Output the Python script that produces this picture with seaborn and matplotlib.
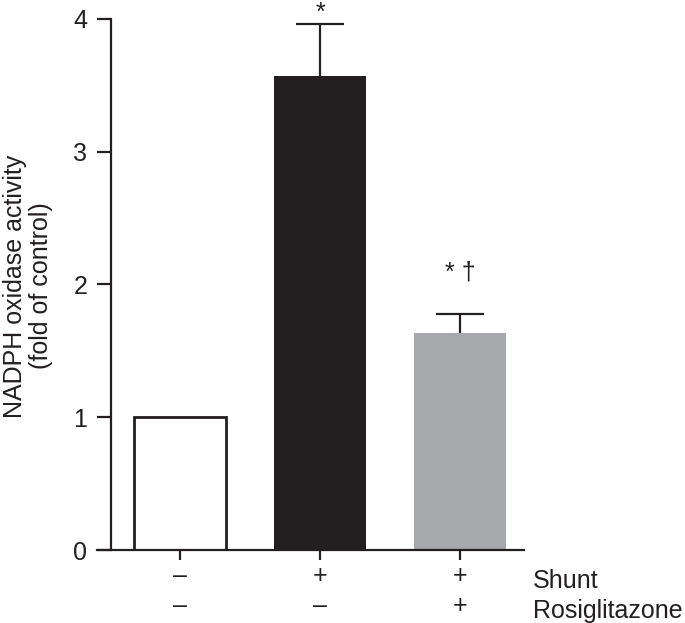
import matplotlib
matplotlib.use("Agg")
import matplotlib.pyplot as plt
import seaborn as sns
import pandas as pd
import numpy as np

groups = ["Control", "Shunt", "Shunt+Rosiglitazone"]
values = [1.0, 3.57, 1.635]
errors = [0.0, 0.39, 0.145]
bar_colors = ["#ffffff", "#231f20", "#a7a9ac"]
shunt_row = ["–", "+", "+"]
rosi_row = ["–", "–", "+"]
annotations = ["", "*", "* †"]
yticks = [0, 1, 2, 3, 4]

sns.set_style("ticks")
plt.rcParams["font.family"] = ["Liberation Sans", "DejaVu Sans"]

FS = 18
fig = plt.figure(figsize=(6.85, 6.23), dpi=100)
ax = fig.add_axes([97/685, 1-550/623, 427/685, 550/623])

df = pd.DataFrame({"group": groups, "value": values})
sns.barplot(data=df, x="group", y="value", hue="group", palette=bar_colors,
            width=0.66, legend=False, ax=ax, saturation=1, linewidth=0)

for i, p in enumerate(ax.patches):
    if i == 0:
        p.set_edgecolor("#231f20")
        p.set_linewidth(2.0)
    else:
        p.set_linewidth(0)

xs = list(range(len(groups)))
eb = ax.errorbar(xs[1:], values[1:], yerr=[[0]*2, errors[1:]], fmt="none",
                 ecolor="#231f20", elinewidth=1.6, capsize=17.3, capthick=1.6)
for cl in eb[1]:
    if np.allclose(np.asarray(cl.get_ydata(), dtype=float), values[1:]):
        cl.set_visible(False)

ymax = 550/132.75
for i, txt in enumerate(annotations):
    if not txt:
        continue
    if i == 1:
        ax.text(i, ymax - 0.01, txt, ha="center", va="top", fontsize=FS, color="#231f20")
    else:
        ax.text(i, 2.09, txt, ha="center", va="center", fontsize=FS, color="#231f20")

ax.set_xlim(-0.593, 2.457)
ax.set_ylim(0, ymax)
ax.spines["left"].set_position(("data", -0.493))
ax.spines["left"].set_bounds(0, 4)
ax.spines["right"].set_visible(False)
ax.spines["top"].set_visible(False)
for s in ["left", "bottom"]:
    ax.spines[s].set_linewidth(1.6)
    ax.spines[s].set_color("#231f20")

ax.set_yticks(yticks)
ax.set_yticklabels([str(t) for t in yticks], fontsize=FS, color="#231f20")
ax.tick_params(axis="y", length=10, width=1.6, color="#231f20", pad=7)
ax.set_xticks(xs)
ax.set_xticklabels([f"{a}\n{b}" for a, b in zip(shunt_row, rosi_row)],
                   fontsize=FS, color="#231f20", linespacing=1.32)
ax.tick_params(axis="x", length=7, width=1.6, color="#231f20", pad=3)
ax.set_xlabel("")
ax.set_ylabel("")

fig.text(533/685, 1-588/623, "Shunt", fontsize=FS, color="#231f20", va="baseline", ha="left")
fig.text(533/685, 1-618/623, "Rosiglitazone", fontsize=FS, color="#231f20", va="baseline", ha="left")
fig.text(28/685, 1-286/623, "NADPH oxidase activity\n(fold of control)", rotation=90,
         fontsize=FS, color="#231f20", va="center", ha="center", linespacing=1.1)

fig.savefig("out.png", dpi=100)
